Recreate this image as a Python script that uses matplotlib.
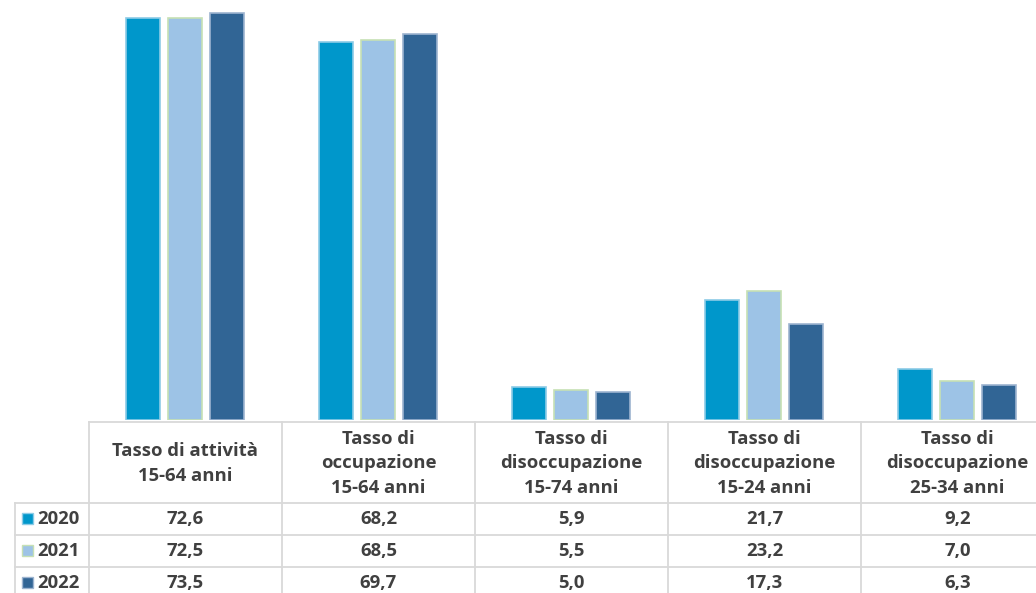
import numpy as np
import matplotlib.pyplot as plt
from matplotlib.patches import Rectangle

categories = [
    "Tasso di attività\n15-64 anni",
    "Tasso di\noccupazione\n15-64 anni",
    "Tasso di\ndisoccupazione\n15-74 anni",
    "Tasso di\ndisoccupazione\n15-24 anni",
    "Tasso di\ndisoccupazione\n25-34 anni",
]
years = ["2020", "2021", "2022"]
v2020 = [72.6, 68.2, 5.9, 21.7, 9.2]
v2021 = [72.5, 68.5, 5.5, 23.2, 7.0]
v2022 = [73.5, 69.7, 5.0, 17.3, 6.3]

series = [v2020, v2021, v2022]
colors = ["#0097CB", "#9DC3E6", "#316595"]
edges = ["#8CCBE6", "#C6E0B4", "#9DB4D0"]
grid_col = "#D9D9D9"
text_col = "#404040"

W, H = 1036, 593
fig = plt.figure(figsize=(W / 100, H / 100), dpi=100)
plt.rcParams["font.family"] = ["Open Sans", "DejaVu Sans"]

# pixel layout of the chart + data table
x0, cw = 89, 193          # left edge of first column, column width
base_y = 420              # bar baseline
hdr_bot = 503
row_h = 32
lab_x = 15
fs = 13.3

ax = fig.add_axes([x0 / W, (H - base_y) / H, 5 * cw / W, base_y / H])
x = np.arange(len(categories))
bw = 0.176
step = 0.218
for i, vals in enumerate(series):
    ax.bar(x + (i - 1) * step - 0.004, vals, width=bw, color=colors[i],
           edgecolor=edges[i], linewidth=1.2)
ax.set_xlim(-0.5, len(categories) - 0.5)
ax.set_ylim(0, 75.8)
ax.axis("off")

# data table underneath, drawn in pixel space
tab = fig.add_axes([0, 0, 1, 1])
tab.set_xlim(0, W)
tab.set_ylim(H, 0)
tab.axis("off")

right = x0 + 5 * cw
lw = 1.3
tab.plot([x0, right], [base_y + 2, base_y + 2], color=grid_col, lw=lw)
tab.plot([lab_x, right], [hdr_bot, hdr_bot], color=grid_col, lw=lw)
for r in range(1, 3):
    yy = hdr_bot + r * row_h
    tab.plot([lab_x, right], [yy, yy], color=grid_col, lw=lw)
for c in range(6):
    xx = x0 + c * cw
    tab.plot([xx, xx], [base_y + 2, H + 5], color=grid_col, lw=lw)
tab.plot([lab_x, lab_x], [hdr_bot, H + 5], color=grid_col, lw=lw)

for c, name in enumerate(categories):
    tab.text(x0 + (c + 0.5) * cw, (base_y + hdr_bot) / 2 + 2, name,
             ha="center", va="center", fontsize=fs, fontweight="bold",
             color=text_col, linespacing=1.45)

for r, (yr, vals) in enumerate(zip(years, series)):
    yc = hdr_bot + (r + 0.5) * row_h
    tab.add_patch(Rectangle((22, yc - 6), 11, 11, facecolor=colors[r],
                            edgecolor=edges[r], lw=1))
    tab.text(37, yc, yr, ha="left", va="center", fontsize=fs,
             fontweight="bold", color=text_col)
    for c, v in enumerate(vals):
        tab.text(x0 + (c + 0.5) * cw, yc, f"{v:.1f}".replace(".", ","),
                 ha="center", va="center", fontsize=fs, fontweight="bold",
                 color=text_col)

fig.savefig("out.png", dpi=100)
